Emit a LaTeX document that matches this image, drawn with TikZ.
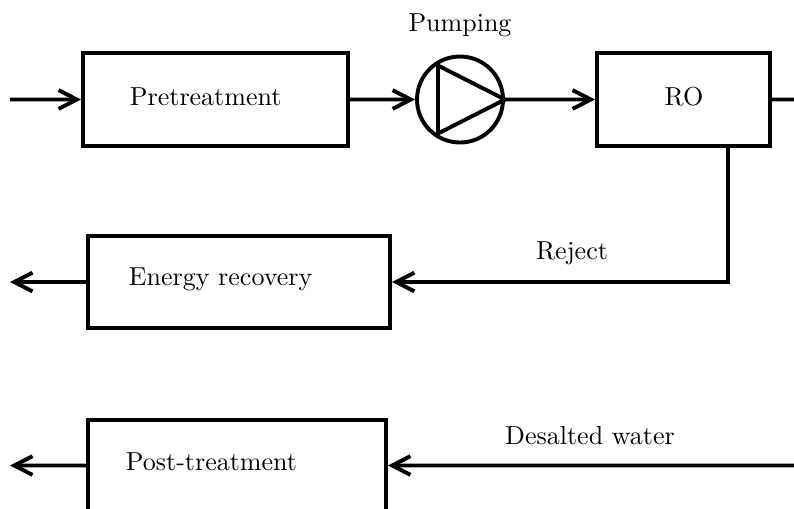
\documentclass[tikz,border=0pt]{standalone}
\usetikzlibrary{arrows.meta,fit,calc}
\newdimen\pxu
\pxu=0.3846pt
\begin{document}
\begin{tikzpicture}[x=\pxu,y=-\pxu,
  line width=1.5pt,
  blk/.style={draw,rectangle,inner sep=0pt,line width=1.5pt},
  lbl/.style={inner sep=0pt,anchor=west,font=\normalsize},
  flow/.style={-{Straight Barb[length=7pt,width=7.2pt,line width=1.5pt]}},
  plain/.style={line width=1.5pt}]
\useasboundingbox (0,0) rectangle (794,508);
\clip (0,0) rectangle (794,508);
% boxes
\node[blk,fit={(83,53) (348,146)}] (pre) {};
\node[blk,fit={(597,53) (770,146)}] (ro) {};
\node[blk,fit={(88,236) (390,328)}] (er) {};
\node[blk,fit={(88,420) (386,511)}] (pt) {};
\node[draw,circle,inner sep=0pt,minimum size=86\pxu,line width=1.5pt] (pump) at (460,99.5) {};
\draw[line join=round] ($(pump.center)+(-22,-34)$) -- ($(pump.center)+(-22,34)$) -- (pump.east) -- cycle;
% labels
\node[lbl] (tpre) at (128,97) {Pretreatment};
\node[inner sep=0pt] (tro) at (684,97) {RO};
\node[lbl] (ter) at (127,279) {Energy recovery};
\node[lbl] (tpt) at (124,462) {Post-treatment};
\node[inner sep=0pt] (tpump) at (460,25) {Pumping};
\node[inner sep=0pt] (trej) at (572,253) {Reject};
\node[inner sep=0pt] (tdw) at (590,436) {Desalted water};
% connectors
\coordinate (in) at (10,99.5);
\coordinate (roout) at (800,99.5);
\coordinate (erout) at (10,282);
\coordinate (ptout) at (10,465.5);
\coordinate (dw) at (800,465.5);
\coordinate (rj) at ($(ro.south east)!0.5!(ro.south)$);
\draw[flow] (in) -- (pre.west);
\draw[flow] (pre.east) -- (pump.west);
\draw[flow] (pump.east) -- (ro.west);
\draw[plain] (ro.east) -- (roout);
\draw[flow] (rj) |- (er.east);
\draw[flow] (er.west) -- (erout);
\draw[flow] (dw) -- (pt.east);
\draw[flow] (pt.west) -- (ptout);
\end{tikzpicture}
\end{document}
